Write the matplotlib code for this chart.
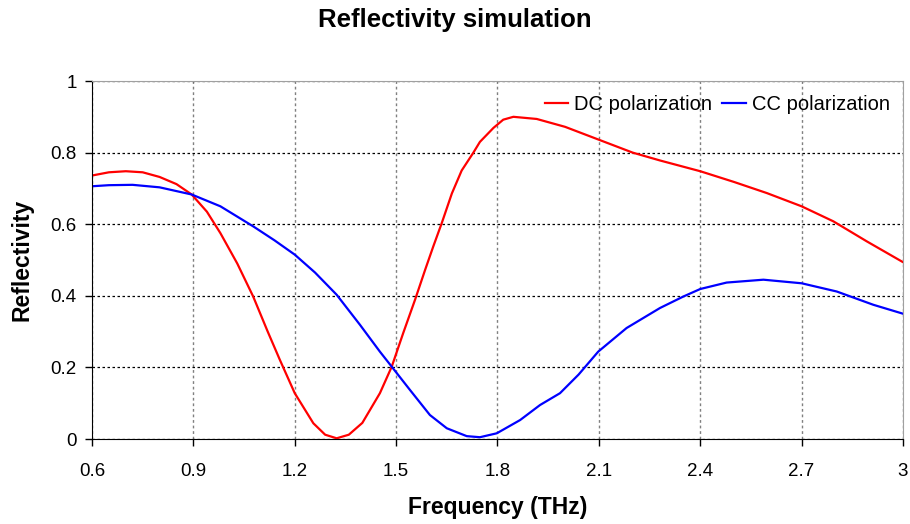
import matplotlib
matplotlib.use("Agg")
import matplotlib.pyplot as plt

plt.rcParams["font.family"] = ["Liberation Sans", "DejaVu Sans"]

# DC polarization (red)
dc_freq = [0.6, 0.65, 0.70, 0.75, 0.80, 0.85, 0.895, 0.94, 0.98, 1.03, 1.077,
           1.12, 1.156, 1.20, 1.255, 1.29, 1.324, 1.36, 1.40, 1.452, 1.487,
           1.521, 1.556, 1.586, 1.610, 1.635, 1.665, 1.694, 1.728, 1.748,
           1.788, 1.817, 1.847, 1.916, 2.0, 2.1, 2.2, 2.281, 2.4, 2.5, 2.597,
           2.7, 2.794, 2.893, 3.0]
dc_refl = [0.736, 0.745, 0.748, 0.745, 0.732, 0.712, 0.683, 0.635, 0.575, 0.49,
           0.398, 0.30, 0.221, 0.128, 0.044, 0.012, 0.002, 0.012, 0.045, 0.128,
           0.202, 0.296, 0.389, 0.473, 0.538, 0.603, 0.686, 0.750, 0.799, 0.830,
           0.869, 0.892, 0.900, 0.894, 0.872, 0.836, 0.800, 0.778, 0.748, 0.718,
           0.687, 0.650, 0.608, 0.552, 0.494]

# CC polarization (blue)
cc_freq = [0.6, 0.65, 0.72, 0.80, 0.895, 0.98, 1.077, 1.14, 1.20, 1.26, 1.324,
           1.393, 1.452, 1.487, 1.541, 1.600, 1.650, 1.709, 1.748, 1.798,
           1.867, 1.926, 1.985, 2.04, 2.098, 2.182, 2.281, 2.35, 2.40, 2.478,
           2.587, 2.70, 2.804, 2.912, 3.0]
cc_refl = [0.706, 0.709, 0.710, 0.703, 0.683, 0.650, 0.594, 0.555, 0.515, 0.465,
           0.403, 0.319, 0.244, 0.202, 0.137, 0.067, 0.030, 0.008, 0.005, 0.016,
           0.053, 0.095, 0.128, 0.18, 0.244, 0.310, 0.366, 0.398, 0.419, 0.437,
           0.445, 0.435, 0.412, 0.375, 0.350]

x_ticks = [0.6, 0.9, 1.2, 1.5, 1.8, 2.1, 2.4, 2.7, 3.0]
x_labels = ["0.6", "0.9", "1.2", "1.5", "1.8", "2.1", "2.4", "2.7", "3"]
y_ticks = [0, 0.2, 0.4, 0.6, 0.8, 1.0]
y_labels = ["0", "0.2", "0.4", "0.6", "0.8", "1"]

fig = plt.figure(figsize=(9.1, 5.24), dpi=100)
ax = fig.add_axes([0.1011, 0.1622, 0.8912, 0.6832])

ax.plot(dc_freq, dc_refl, color="#ff0000", lw=1.6, label="DC polarization")
ax.plot(cc_freq, cc_refl, color="#0000ff", lw=1.6, label="CC polarization")

ax.set_xlim(0.6, 3.0)
ax.set_ylim(0, 1)
ax.set_xticks(x_ticks)
ax.set_xticklabels(x_labels)
ax.set_yticks(y_ticks)
ax.set_yticklabels(y_labels)
ax.tick_params(direction="out", length=5, width=1, labelsize=13.5, pad=12)
ax.tick_params(axis="y", pad=6)

# vertical grid grey, horizontal grid black, both dotted
ax.xaxis.grid(True, color="#808080", linestyle=(0, (2, 2)), lw=1)
ax.yaxis.grid(True, color="black", linestyle=(0, (2, 2)), lw=0.9)
ax.set_axisbelow(True)

for side in ("top", "right"):
    ax.spines[side].set_color("#a0a0a0")
for side in ("left", "bottom"):
    ax.spines[side].set_color("black")

ax.set_xlabel("Frequency (THz)", fontsize=16.5, fontweight="bold", labelpad=12)
ax.set_ylabel("Reflectivity", fontsize=16.5, fontweight="bold", labelpad=12)
fig.suptitle("Reflectivity simulation", fontsize=18.5, fontweight="bold", y=0.984)

ax.legend(loc="upper right", ncol=2, frameon=False, fontsize=14.5,
          handlelength=1.15, handletextpad=0.3, columnspacing=0.5,
          borderaxespad=0.1, bbox_to_anchor=(0.996, 0.99))

fig.savefig("out.png", dpi=100)
